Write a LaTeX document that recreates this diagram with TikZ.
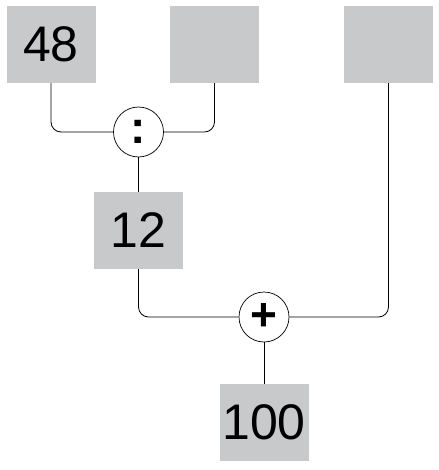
\documentclass[tikz,border=0pt]{standalone}
\usepackage{fontspec}
\setmainfont{Liberation Sans}
\definecolor{boxgray}{RGB}{200,201,203}

\begin{document}
\begin{tikzpicture}[x=1pt, y=-1pt,
  box/.style = {shape=rectangle, fill=boxgray,
    minimum width=89pt, minimum height=77pt, inner sep=0pt,
    font=\fontsize{50}{50}\selectfont},
  op/.style = {shape=circle, draw, line width=0.7pt, fill=white,
    minimum size=50pt, inner sep=0pt,
    font=\fontsize{46}{46}\selectfont\bfseries},
  wire/.style = {line width=0.8pt, rounded corners=10pt}]
  \useasboundingbox (0,0) rectangle (438,470);
  % top row
  \node[box] (n48) at (51,44.5) {48};
  \node[box] (blank1) at (214.5,44.5) {};
  \node[box] (blank2) at (388.5,44.5) {};
  % division
  \node[op] (div) at (138.5,132) {:};
  \node[box] (n12) at (138.5,230.5) {12};
  % addition
  \node[op] (plus) at (264,317) {+};
  \node[box] (n100) at (264,422.5) {100};
  % wires
  \draw[wire] (n48.south) |- (div.west);
  \draw[wire] (blank1.south) |- (div.east);
  \draw[wire] (div.south) -- (n12.north);
  \draw[wire] (n12.south) |- (plus.west);
  \draw[wire] (blank2.south) |- (plus.east);
  \draw[wire] (plus.south) -- (n100.north);
\end{tikzpicture}
\end{document}
